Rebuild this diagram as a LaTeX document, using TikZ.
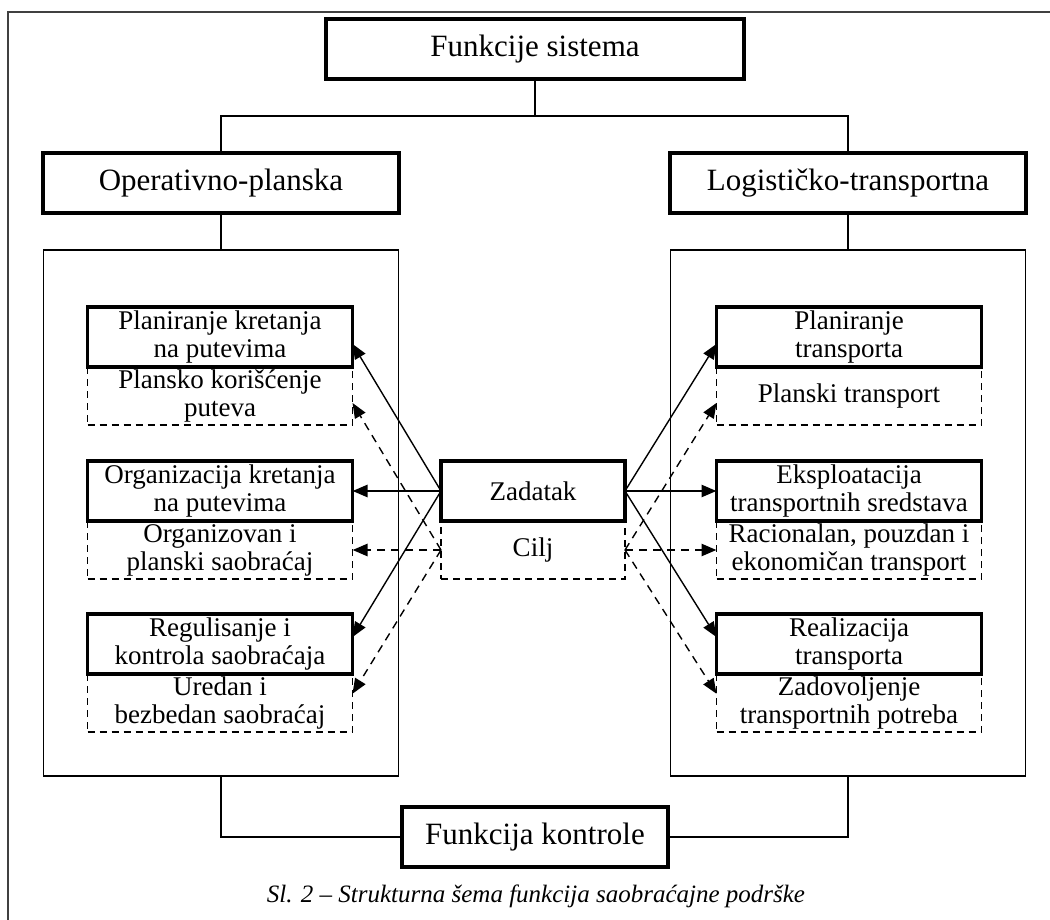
\documentclass[tikz,border=0pt]{standalone}
\usepackage{fontspec}
\setmainfont{Liberation Serif}
\usetikzlibrary{positioning}
\usetikzlibrary{arrows.meta}

\tikzset{
  naslov/.style={draw, line width=3.2pt, inner sep=0pt, outer sep=0pt, align=center,
    minimum height=60pt, font=\fontsize{31}{33}\selectfont},
  zadatak/.style={draw, line width=3.2pt, inner sep=0pt, outer sep=0pt, align=center,
    minimum width=265pt, minimum height=60pt, font=\fontsize{27}{28}\selectfont},
  cilj/.style={draw, line width=1.6pt, dash pattern=on 7pt off 5pt, inner sep=0pt, outer sep=0pt,
    align=center, minimum width=265pt, minimum height=58pt, font=\fontsize{27}{28}\selectfont},
  panel/.style={draw, line width=1.3pt, minimum width=355pt, minimum height=526pt},
  veza/.style={line width=1.3pt},
  strelica/.style={line width=1.4pt, -{Triangle[length=15pt,width=12pt]}},
  isprek/.style={dash pattern=on 8pt off 6pt},
}

\begin{document}
\begin{tikzpicture}[x=1pt,y=-1pt]
  \useasboundingbox (0,0) rectangle (1050,920);
  \draw[line width=1.8pt, black!75] (1050,12) -- (8,12) -- (8,920); % okvir slike

  \node[naslov, minimum width=418pt] (FS) at (535,49) {Funkcije sistema};
  \node[naslov, minimum width=356pt] (OP) at (221,183) {Operativno-planska};
  \node[naslov, minimum width=356pt] (LT) at (848,183) {Logističko-transportna};
  \node[panel] (LP) at (221,513) {};
  \node[panel] (RP) at (848,513) {};
  \node[naslov, minimum width=266pt] (FK) at (535,837) {Funkcija kontrole};

  \draw[veza] (FS.south) -- ++(0,37) -| (OP.north);
  \draw[veza] (FS.south) -- ++(0,37) -| (LT.north);
  \draw[veza] (OP.south) -- (LP.north);
  \draw[veza] (LT.south) -- (RP.north);
  \draw[veza] (LP.south) |- (FK.west);
  \draw[veza] (RP.south) |- (FK.east);

  % levo
  \node[zadatak] (L1) at (220,337) {Planiranje kretanja\\na putevima};
  \node[cilj, below=0pt of L1] (L1c) {Plansko korišćenje\\puteva};
  \node[zadatak] (L2) at (220,491) {Organizacija kretanja\\na putevima};
  \node[cilj, below=0pt of L2] (L2c) {Organizovan i\\planski saobraćaj};
  \node[zadatak] (L3) at (220,644) {Regulisanje i\\kontrola saobraćaja};
  \node[cilj, below=0pt of L3] (L3c) {Uredan i\\bezbedan saobraćaj};

  % sredina
  \node[zadatak, minimum width=184pt] (Z) at (533,491) {Zadatak};
  \node[cilj, minimum width=184pt, below=0pt of Z] (C) {Cilj};

  % desno
  \node[zadatak] (R1) at (849,337) {Planiranje\\transporta};
  \node[cilj, below=0pt of R1] (R1c) {Planski transport};
  \node[zadatak] (R2) at (849,491) {Eksploatacija\\transportnih sredstava};
  \node[cilj, below=0pt of R2] (R2c) {Racionalan, pouzdan i\\ekonomičan transport};
  \node[zadatak] (R3) at (849,644) {Realizacija\\transporta};
  \node[cilj, below=0pt of R3] (R3c) {Zadovoljenje\\transportnih potreba};

  \draw[strelica] (Z.west) -- (L1.-3);
  \draw[strelica, line width=2.6pt] (Z.west) -- (L2.east);
  \draw[strelica] (Z.west) -- (L3.3);
  \draw[strelica, isprek] (C.west) -- (L1c.-3);
  \draw[strelica, isprek, line width=2.6pt] (C.west) -- (L2c.east);
  \draw[strelica, isprek] (C.west) -- (L3c.4);

  \draw[strelica] (Z.east) -- (R1.183);
  \draw[strelica, line width=2.6pt] (Z.east) -- (R2.west);
  \draw[strelica] (Z.east) -- (R3.177);
  \draw[strelica, isprek] (C.east) -- (R1c.183);
  \draw[strelica, isprek, line width=2.6pt] (C.east) -- (R2c.west);
  \draw[strelica, isprek] (C.east) -- (R3c.176);

  \node[font=\fontsize{25}{27}\selectfont\itshape] (SL) at (536,896) {Sl. 2 – Strukturna šema funkcija saobraćajne podrške};
\end{tikzpicture}
\end{document}
